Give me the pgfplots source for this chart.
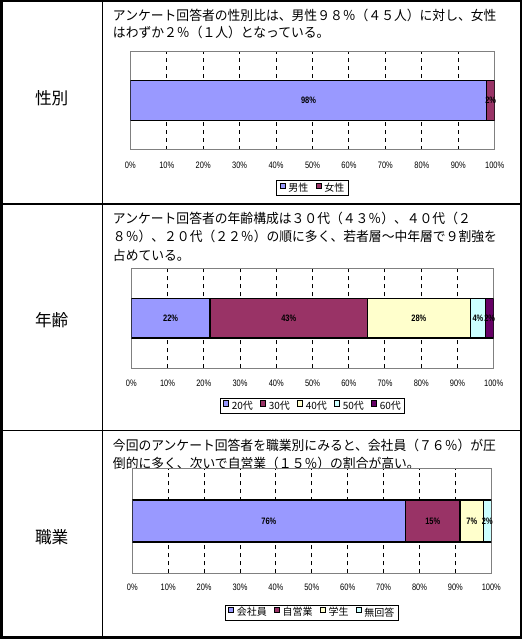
\documentclass[border=0pt]{standalone}
\usepackage{fontspec}
\setmainfont{Noto Sans CJK JP}
\newfontfamily\desc[FakeStretch=0.96]{Noto Sans CJK JP}
\newfontfamily\tk[FakeStretch=0.8]{Liberation Sans}
\usepackage{pgfplots}
\pgfplotsset{compat=1.18}
\definecolor{c1}{HTML}{9999FF}
\definecolor{c2}{HTML}{993366}
\definecolor{c3}{HTML}{FFFFCC}
\definecolor{c4}{HTML}{CCFFFF}
\definecolor{c5}{HTML}{660066}
\pgfplotsset{
  mybar/.style={
    scale only axis, anchor=south west,
    xbar stacked,
    xmin=0, xmax=100, ymin=-1, ymax=1, enlargelimits=false,
    ytick=\empty,
    xtick={0,10,...,100},
    xticklabels={0\%,10\%,20\%,30\%,40\%,50\%,60\%,70\%,80\%,90\%,100\%},
    xtick pos=left,
    xtick align=inside,
    major tick length=2.25pt,
    tick style={black, line width=0.75pt},
    axis line style={draw=gray, line width=0.75pt},
    xmajorgrids,
    grid style={black, line width=0.75pt, dash pattern=on 3pt off 3pt},
    xticklabel style={font=\tk\fontsize{7}{8}\selectfont, anchor=center},
    legend columns=-1,
    legend cell align=left,
    legend image code/.code={\draw[##1,draw=black,line width=0.6pt] (0pt,0pt) rectangle (4pt,4pt);},
    legend style={draw=black, line width=0.75pt, font=\fontsize{7.5}{8}\selectfont,
      inner xsep=2pt, inner ysep=1pt, at={(0.5,0)}, anchor=center,
      nodes={inner sep=0.8pt},
      /tikz/every odd column/.append style={column sep=1.2pt},
      /tikz/every even column/.append style={column sep=4.5pt}},
  },
  mylab/.style={
    scale only axis, anchor=south west, hide axis,
    xmin=0, xmax=100, ymin=-1, ymax=1, enlargelimits=false, clip=false,
  },
  labplot/.style={draw=none, nodes near coords, point meta=explicit symbolic,
    every node near coord/.append style={anchor=center, inner sep=0pt,
      font=\tk\bfseries\fontsize{7}{8}\selectfont}},
  segment/.style={fill=#1, draw=black, line width=0.9pt},
}
\begin{document}
\begin{tikzpicture}
\begin{scope}[x=0.75pt,y=-0.75pt]
\path[use as bounding box] (0,0) rectangle (524,641);
\draw[line width=1.8pt] (1.3,1.2) rectangle (520.7,637.3);
\draw[line width=1.1pt] (102.3,1) -- (102.3,637);
\draw[line width=1pt] (1,204) -- (521,204);
\draw[line width=1pt] (1,430.8) -- (521,430.8);
\node[font=\fontsize{12.5}{13}\selectfont] at (51.7,98) {性別};
\node[font=\fontsize{12.5}{13}\selectfont] at (51.7,320) {年齢};
\node[font=\fontsize{12.5}{13}\selectfont] at (51.7,537.5) {職業};
\begin{scope}[every node/.style={anchor=west, inner sep=0pt, font=\desc\fontsize{10}{12}\selectfont}]
\node at (112.7,15) {アンケート回答者の性別比は、男性９８％（４５人）に対し、女性};
\node at (112.7,32) {はわずか２％（１人）となっている。};
\node at (112.7,218.3) {アンケート回答者の年齢構成は３０代（４３％）、４０代（２};
\node at (112.7,236.7) {８％）、２０代（２２％）の順に多く、若者層～中年層で９割強を};
\node at (112.7,255) {占めている。};
\node at (112.7,445) {今回のアンケート回答者を職業別にみると、会社員（７６％）が圧};
\node at (112.7,463.3) {倒的に多く、次いで自営業（１５％）の割合が高い。};
\end{scope}
\end{scope}

% Chart 1: gender
\begin{axis}[mybar, at={(97.725pt,-112.5pt)}, width=273.3pt, height=74.03pt, bar width=30pt,
  xticklabel style={yshift=-11.6pt}, legend style={yshift=-28.7pt}]
\addplot[segment=c1] coordinates {(97.8,0)};
\addplot[segment=c2] coordinates {(2.2,0)};
\legend{男性,女性}
\end{axis}
\begin{axis}[mylab, at={(97.725pt,-112.5pt)}, width=273.3pt, height=74.03pt]
\addplot[labplot] coordinates {(48.9,0) [98\%] (98.9,0) [2\%]};
\end{axis}

% Chart 2: age
\begin{axis}[mybar, at={(98.475pt,-276.225pt)}, width=271.8pt, height=75pt, bar width=29.5pt,
  xticklabel style={yshift=-11pt}, legend style={yshift=-28.4pt}]
\addplot[segment=c1] coordinates {(21.7,0)};
\addplot[segment=c2] coordinates {(43.5,0)};
\addplot[segment=c3] coordinates {(28.3,0)};
\addplot[segment=c4] coordinates {(4.3,0)};
\addplot[segment=c5] coordinates {(2.2,0)};
\legend{20代,30代,40代,50代,60代}
\end{axis}
\begin{axis}[mylab, at={(98.475pt,-276.225pt)}, width=271.8pt, height=75pt]
\addplot[labplot] coordinates {(10.85,0) [22\%] (43.45,0) [43\%] (79.35,0) [28\%] (95.65,0) [4\%] (98.9,0) [2\%]};
\end{axis}

% Chart 3: occupation
\begin{axis}[mybar, at={(99.225pt,-429.975pt)}, width=269.25pt, height=78.45pt, bar width=31.5pt,
  xticklabel style={yshift=-10.3pt}, legend style={yshift=-29.6pt}]
\addplot[segment=c1] coordinates {(76.1,0)};
\addplot[segment=c2] coordinates {(15.2,0)};
\addplot[segment=c3] coordinates {(6.5,0)};
\addplot[segment=c4] coordinates {(2.2,0)};
\legend{会社員,自営業,学生,無回答}
\end{axis}
\begin{axis}[mylab, at={(99.225pt,-429.975pt)}, width=269.25pt, height=78.45pt]
\addplot[labplot] coordinates {(38.05,0) [76\%] (83.7,0) [15\%] (94.55,0) [7\%] (98.9,0) [2\%]};
\end{axis}
\end{tikzpicture}
\end{document}
